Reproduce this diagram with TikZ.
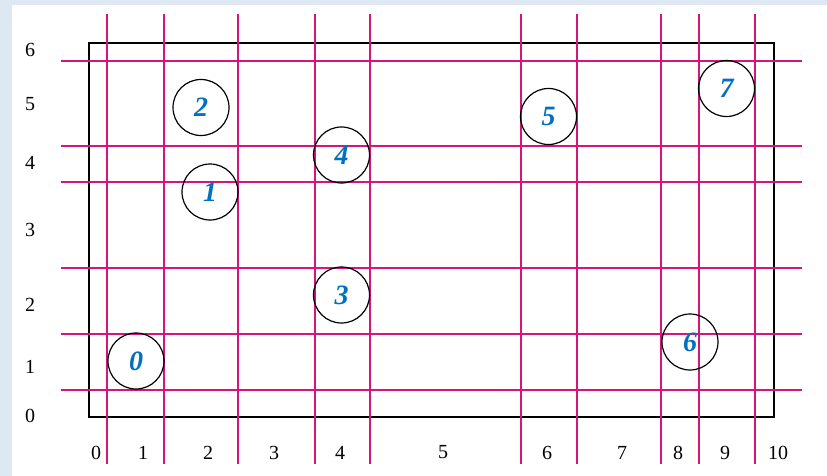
\documentclass[tikz,border=0pt]{standalone}
\usepackage{fontspec}
\setmainfont{Liberation Serif}
\definecolor{mag}{RGB}{214,20,122}
\definecolor{numblue}{RGB}{0,112,192}
\definecolor{bgstrip}{RGB}{222,232,243}
\begin{document}
\begin{tikzpicture}[x=1pt,y=-1pt,
  gridline/.style={draw=mag,line width=1.6pt},
  cell/.style={circle,draw=black,line width=1.2pt,minimum size=56pt,inner sep=0pt,
    text=numblue,font=\fontsize{28}{28}\selectfont\bfseries\itshape},
  axlab/.style={font=\fontsize{20}{20}\selectfont,inner sep=0pt}]
\useasboundingbox (0,0) rectangle (827,476);
\fill[bgstrip] (0,0) rectangle (827,5);
\fill[bgstrip] (0,0) rectangle (12,476);
% frame
\draw[line width=2.2pt] (89,43) rectangle (774,417);
% vertical lines
\foreach \x in {107,164,238,315,370,521,577,661,699,755}
  \draw[gridline] (\x,14) -- (\x,464);
% horizontal lines
\foreach \y in {61,146,182,268,334,390}
  \draw[gridline] (61,\y) -- (802,\y);
% circles
\node[cell] (c0) at (136,361) {0};
\node[cell] (c1) at (210,192) {1};
\node[cell] (c2) at (201,107.5) {2};
\node[cell] (c3) at (341.5,295) {3};
\node[cell] (c4) at (341.5,155) {4};
\node[cell] (c5) at (548.5,116.5) {5};
\node[cell] (c6) at (690,342) {6};
\node[cell] (c7) at (726.5,88.5) {7};
% y labels
\node[axlab] (y6) at (30,50) {6};
\node[axlab] (y5) at (30,104) {5};
\node[axlab] (y4) at (30,163) {4};
\node[axlab] (y3) at (30,230) {3};
\node[axlab] (y2) at (30,305) {2};
\node[axlab] (y1) at (30,367) {1};
\node[axlab] (y0) at (30,416) {0};
% x labels
\node[axlab] (x0) at (96,452.5) {0};
\node[axlab] (x1) at (143,452.5) {1};
\node[axlab] (x2) at (208,452.5) {2};
\node[axlab] (x3) at (274,452.5) {3};
\node[axlab] (x4) at (340,452.5) {4};
\node[axlab] (x5) at (443,452.5) {5};
\node[axlab] (x6) at (547,452.5) {6};
\node[axlab] (x7) at (622,452.5) {7};
\node[axlab] (x8) at (678,452.5) {8};
\node[axlab] (x9) at (725,452.5) {9};
\node[axlab] (x10) at (778,452.5) {10};
\end{tikzpicture}
\end{document}
